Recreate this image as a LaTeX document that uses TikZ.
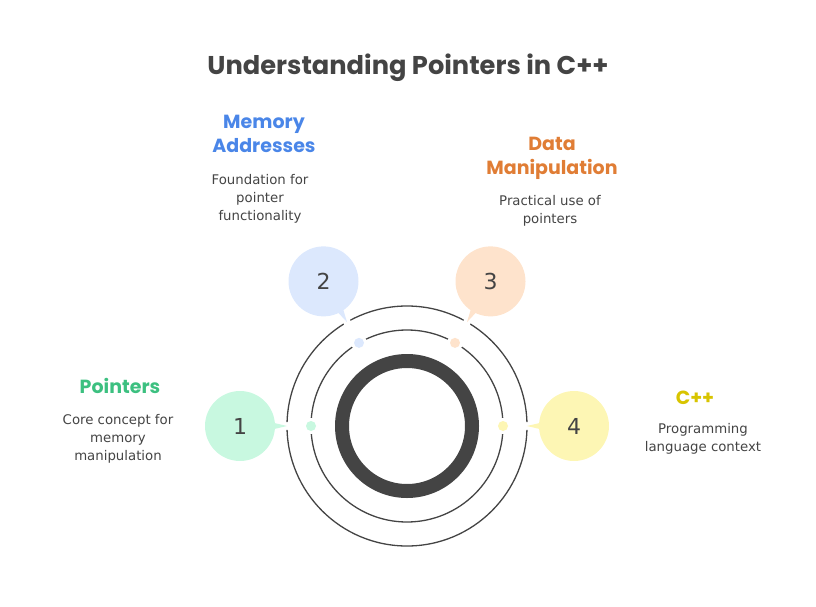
\documentclass[tikz,border=0pt]{standalone}
\usepackage{fontspec}
\setmainfont{DejaVu Sans}
\newfontfamily\hd{Poppins Bold}
\definecolor{ink}{HTML}{444444}
\definecolor{gT}{HTML}{3CC080}\definecolor{gF}{HTML}{C8F8E0}
\definecolor{bT}{HTML}{4A86E8}\definecolor{bF}{HTML}{DCE8FD}
\definecolor{oT}{HTML}{E07D35}\definecolor{oF}{HTML}{FEE3CC}
\definecolor{yT}{HTML}{D8C400}\definecolor{yF}{HTML}{FDF6B4}
\begin{document}
\begin{tikzpicture}[x=1pt,y=-1pt,
  ttl/.style={font=\hd\fontsize{19}{24}\selectfont,align=center},
  dsc/.style={font=\fontsize{13.3}{18}\selectfont,text=ink,align=center},
  num/.style={font=\fontsize{22}{24}\selectfont,text=ink}]
\useasboundingbox (0,0) rectangle (816,607);
\coordinate (c) at (407,426);
\draw[ink,line width=1.3] (c) circle (120);
\draw[ink,line width=1.3] (c) circle (96);
\draw[ink,line width=14] (c) circle (65);
\foreach \n/\a/\f in {1/180/gF,2/120/bF,3/60/oF,4/0/yF}{
  \pgfmathsetmacro\ax{cos(\a)}\pgfmathsetmacro\ay{-sin(\a)}
  \fill[white] (407+120*\ax,426+120*\ay) circle (4);
  \fill[white] (407+96*\ax,426+96*\ay) circle (8);
  \fill[\f] (407+96*\ax,426+96*\ay) circle (5);
  \fill[\f] (407+120*\ax,426+120*\ay) -- (407+158*\ax-9*\ay,426+158*\ay+9*\ax) -- (407+158*\ax+9*\ay,426+158*\ay-9*\ax) -- cycle;
  \fill[\f] (407+167*\ax,426+167*\ay) circle (35);
  \node[num] (n\n) at (407+167*\ax,426+167*\ay) {\n};
}
\node[font=\hd\fontsize{25.7}{30}\selectfont,text=ink] (title) at (408,68) {Understanding Pointers in C++};
\node[ttl,text=gT] (t1) at (120,386) {Pointers};
\node[dsc] (d1) at (118,439) {Core concept for\\memory\\manipulation};
\node[ttl,text=bT] (t2) at (264,134) {Memory\\Addresses};
\node[dsc] (d2) at (260,199) {Foundation for\\pointer\\functionality};
\node[ttl,text=oT] (t3) at (552,158) {Data\\Manipulation};
\node[dsc] (d3) at (550,211) {Practical use of\\pointers};
\node[ttl,text=yT] (t4) at (695,398) {C++};
\node[dsc] (d4) at (703,439) {Programming\\language context};
\end{tikzpicture}
\end{document}
